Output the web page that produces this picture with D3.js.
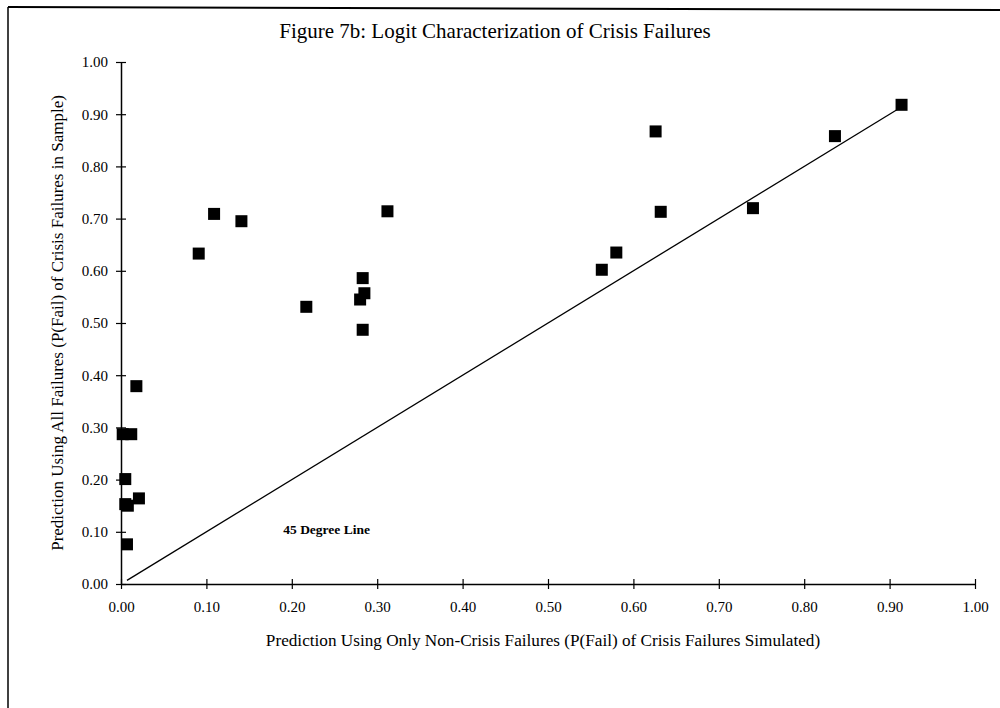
<!DOCTYPE html>
<html>
<head>
<meta charset="utf-8">
<script src="https://cdn.jsdelivr.net/npm/d3@7"></script>
<style>
  body { margin: 0; background: #fff; }
  svg { display: block; }
  text { font-family: "Liberation Serif", "Times New Roman", serif; fill: #000; }
</style>
</head>
<body>
<div id="chart"></div>
<script>
// values: P(Fail) non-crisis model (x) vs all-failures model (y)
var xVals = [0.914, 0.836, 0.626, 0.632, 0.740, 0.580, 0.563, 0.312, 0.109, 0.141, 0.091,
             0.217, 0.283, 0.285, 0.280, 0.283, 0.018, 0.002, 0.012, 0.005, 0.005, 0.008,
             0.021, 0.007];
var yVals = [0.918, 0.858, 0.867, 0.713, 0.720, 0.635, 0.602, 0.714, 0.709, 0.695, 0.633,
             0.531, 0.586, 0.557, 0.545, 0.487, 0.379, 0.287, 0.287, 0.201, 0.153, 0.150,
             0.164, 0.076];
var lineX = [0.007, 0.91];   // 45 degree line end points
var tickVals = [0, 0.1, 0.2, 0.3, 0.4, 0.5, 0.6, 0.7, 0.8, 0.9, 1.0];

var title = "Figure 7b: Logit Characterization of Crisis Failures";
var xTitle = "Prediction Using Only Non-Crisis Failures (P(Fail) of Crisis Failures Simulated)";
var yTitle = "Prediction Using All Failures (P(Fail) of Crisis Failures in Sample)";
var lineLabel = "45 Degree Line";

var width = 1000, height = 708;
var mLeft = 121, mRight = 975, mTop = 62, mBottom = 584;

var svg = d3.select("#chart").append("svg")
    .attr("width", width)
    .attr("height", height);

// scanned page frame
svg.append("line").attr("x1", 8).attr("y1", 7).attr("x2", 1000).attr("y2", 10)
    .attr("stroke", "#000").attr("stroke-width", 2);
svg.append("line").attr("x1", 8).attr("y1", 7).attr("x2", 8).attr("y2", 708)
    .attr("stroke", "#000").attr("stroke-width", 1.5);

var x = d3.scaleLinear().domain([0, 1]).range([mLeft, mRight]);
var y = d3.scaleLinear().domain([0, 1]).range([mBottom, mTop]);

// x axis, ticks cross the line
var gx = svg.append("g")
    .attr("transform", "translate(0," + mBottom + ")")
    .call(d3.axisBottom(x).tickValues(tickVals).tickFormat(d3.format(".2f")).tickSize(5).tickSizeOuter(0));
gx.select(".domain").attr("stroke", "#000").attr("stroke-width", 1.5);
gx.selectAll(".tick line").attr("y1", -5).attr("y2", 5).attr("stroke-width", 1.2);
gx.selectAll(".tick text").attr("y", 28).attr("dy", 0)
    .attr("font-size", 15).attr("font-family", "Liberation Serif");

var gy = svg.append("g")
    .attr("transform", "translate(" + mLeft + ",0)")
    .call(d3.axisLeft(y).tickValues(tickVals).tickFormat(d3.format(".2f")).tickSize(5).tickSizeOuter(0));
gy.select(".domain").attr("stroke", "#000").attr("stroke-width", 1.5);
gy.selectAll(".tick line").attr("x1", -5).attr("x2", 5).attr("stroke-width", 1.2);
gy.selectAll(".tick text").attr("x", -13)
    .attr("font-size", 15).attr("font-family", "Liberation Serif");

// 45 degree line
svg.append("line")
    .attr("x1", x(lineX[0])).attr("y1", y(lineX[0]))
    .attr("x2", x(lineX[1])).attr("y2", y(lineX[1]))
    .attr("stroke", "#000").attr("stroke-width", 1.3);

// markers
var sz = 12;
svg.append("g").selectAll("rect")
    .data(d3.range(xVals.length))
    .enter().append("rect")
    .attr("x", function(i) { return x(xVals[i]) - sz / 2; })
    .attr("y", function(i) { return y(yVals[i]) - sz / 2; })
    .attr("width", sz)
    .attr("height", sz)
    .attr("fill", "#000");

// texts
svg.append("text")
    .attr("x", 495).attr("y", 38)
    .attr("text-anchor", "middle")
    .attr("font-size", 21)
    .text(title);

svg.append("text")
    .attr("x", x(0.5) - 5).attr("y", 646)
    .attr("text-anchor", "middle")
    .attr("font-size", 17.2)
    .text(xTitle);

svg.append("text")
    .attr("transform", "translate(63," + ((mTop + mBottom) / 2) + ") rotate(-90)")
    .attr("text-anchor", "middle")
    .attr("font-size", 17)
    .text(yTitle);

svg.append("text")
    .attr("x", x(0.19)).attr("y", y(0.095))
    .attr("font-size", 13.5)
    .attr("font-weight", "bold")
    .text(lineLabel);
</script>
</body>
</html>
